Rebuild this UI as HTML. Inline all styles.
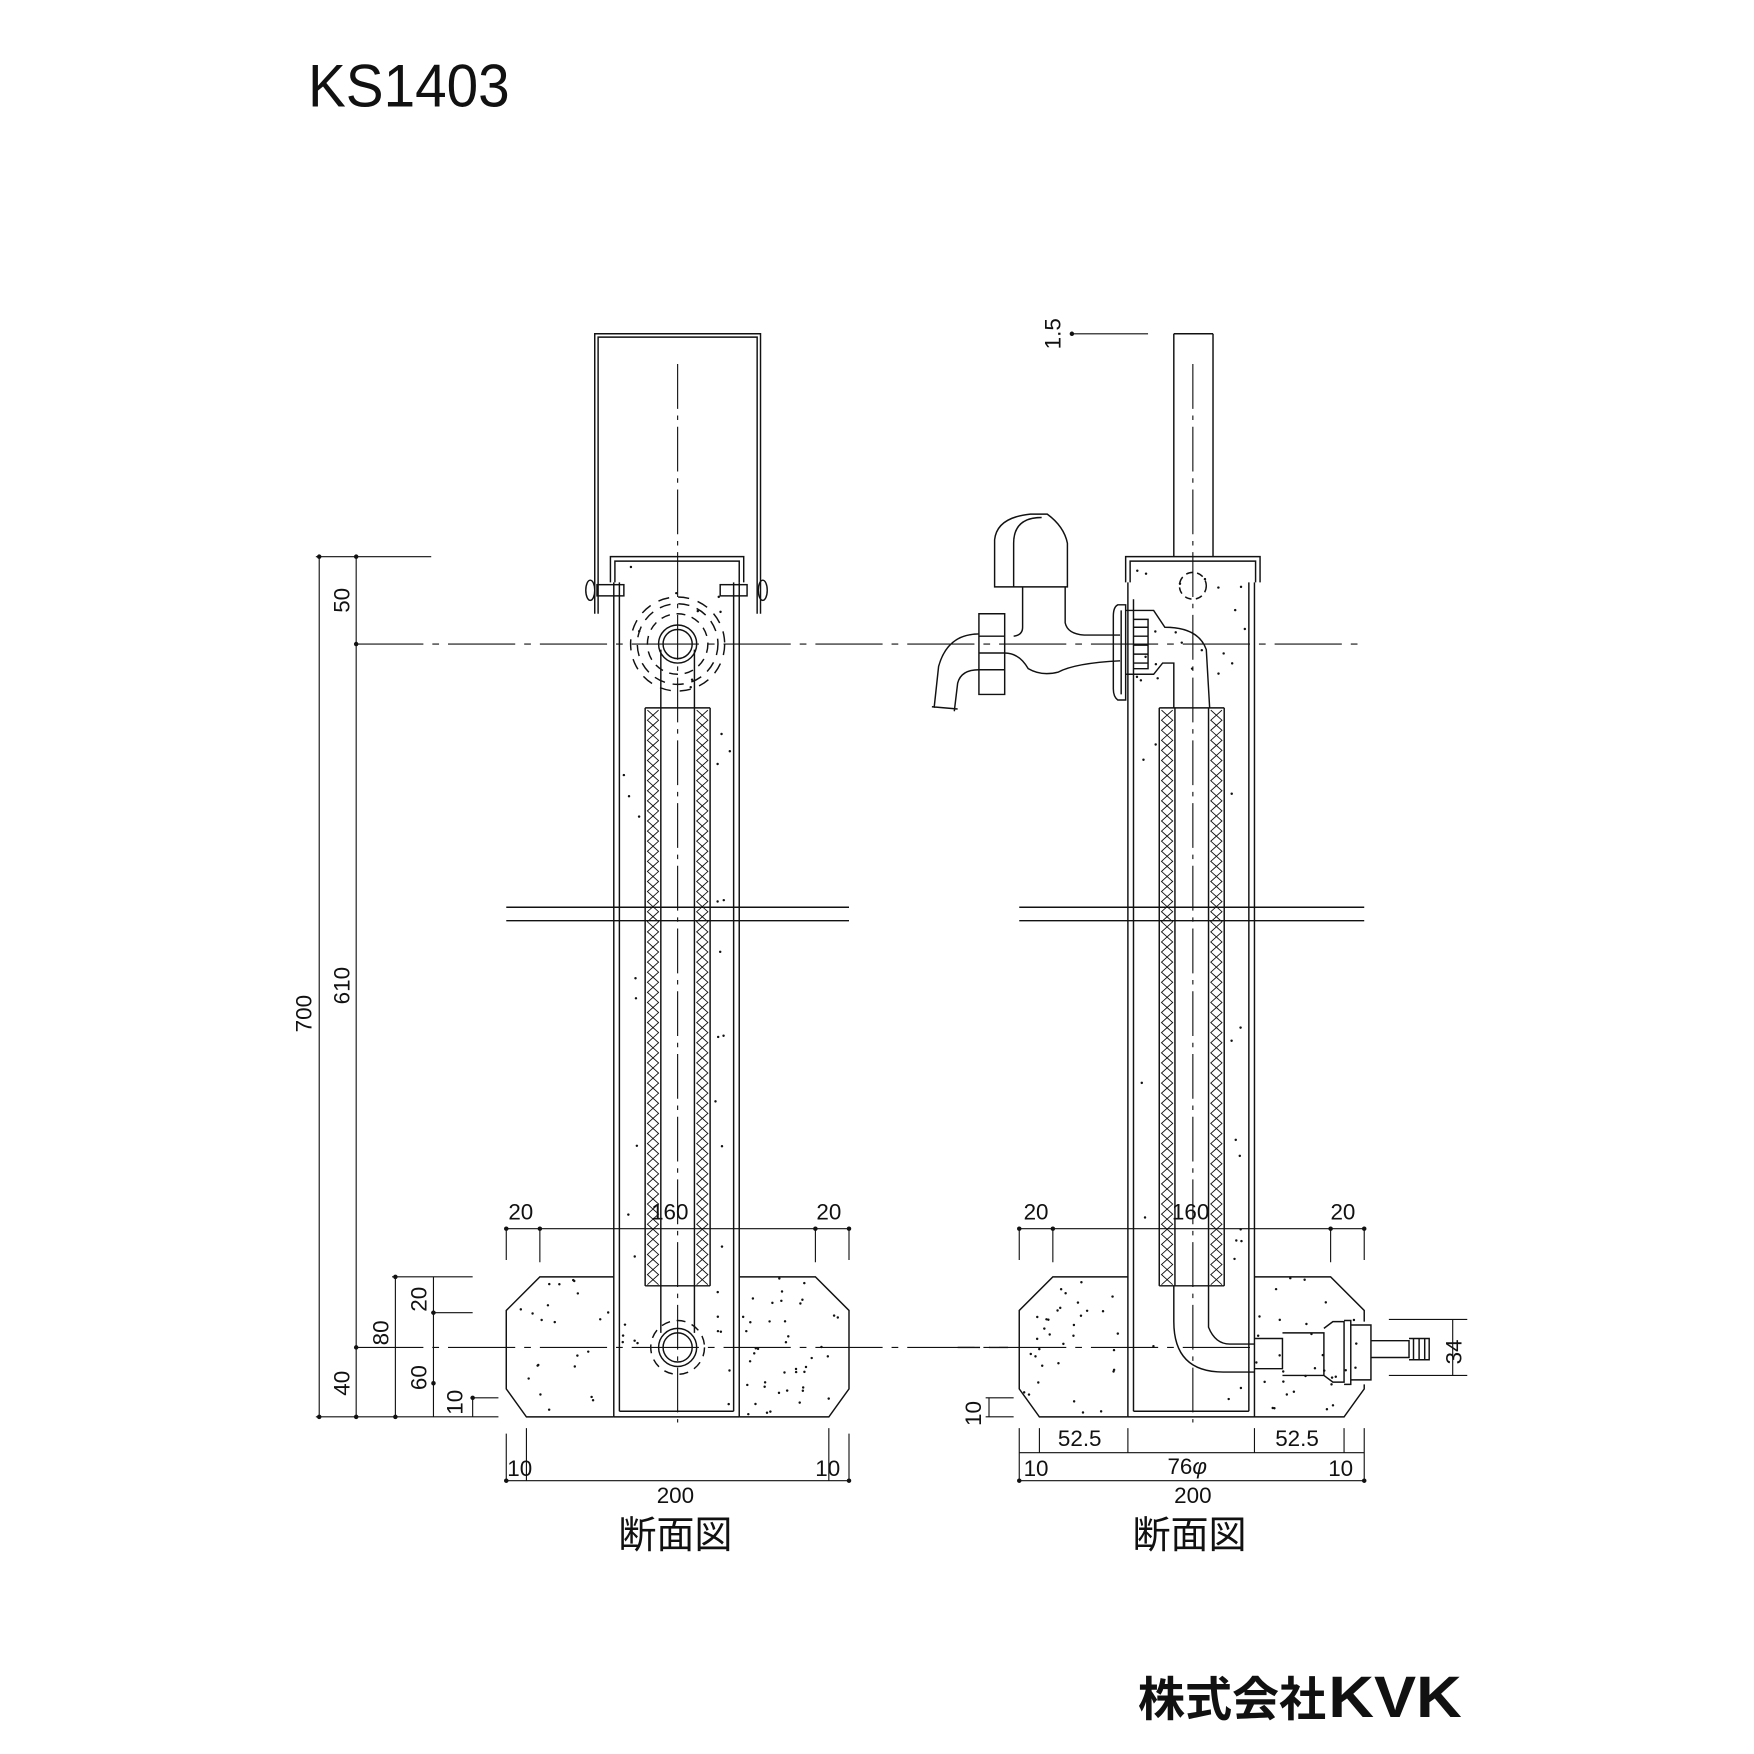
<!DOCTYPE html>
<html><head><meta charset="utf-8"><style>
html,body{margin:0;padding:0;background:#fff}
svg{display:block}
text{font-family:"Liberation Sans","Noto Sans CJK JP",sans-serif;fill:#111}
</style></head><body>
<svg id="s" width="1754" height="1754" viewBox="0 0 1566 1566" xmlns="http://www.w3.org/2000/svg">
<g fill="none" stroke="#111" stroke-width="1.3">
<path d="M531 548 V298 H679 V548 M534 548 V301 H676 V548"/>
<path d="M545 520 V497 H664 V520 M549 520 V501 H660 V520"/>
<path d="M548 520 V1265 M553 520 V1260 M660 520 V1265 M655 520 V1260 M548 1265 H660 M553 1260 H655"/>
<rect x="533" y="522" width="24" height="10"/><rect x="643" y="522" width="24" height="10"/>
<ellipse cx="527" cy="527" rx="4" ry="9"/><ellipse cx="681" cy="527" rx="4" ry="9"/>
<path d="M605 325 V1270" stroke-dasharray="40 6 4 6" stroke-width="1"/>
<path d="M318 575 H1215" stroke-dasharray="60 8 6 8" stroke-width="1"/>
<path d="M318 1203 H1120" stroke-dasharray="60 8 6 8" stroke-width="1"/>
<circle cx="605" cy="575" r="17"/><circle cx="605" cy="575" r="13"/>
<circle cx="605" cy="575" r="27" stroke-dasharray="8 6"/><circle cx="605" cy="575" r="36" stroke-dasharray="10 7"/><circle cx="605" cy="575" r="42" stroke-dasharray="10 8"/>
<path d="M590 580 V632 M620 580 V632"/>
<path d="M576 632 H634 M576 632 V1148 M590 632 V1148 M620 632 V1148 M634 632 V1148 M576 1148 H634"/>
<path d="M590 1148 V1190 M620 1148 V1190"/>
<circle cx="605" cy="1203" r="17"/><circle cx="605" cy="1203" r="13"/>
<circle cx="605" cy="1203" r="24" stroke-dasharray="8 6"/>
<path d="M452 810 H758 M452 822 H758"/>
<path d="M548 1140 H482 L452 1170 V1240 L470 1265 H548 M660 1140 H728 L758 1170 V1240 L740 1265 H660"/>

<path d="M1048 298 H1083 M1048 298 V497 M1083 298 V497"/>
<path d="M1065 325 V1270" stroke-dasharray="40 6 4 6" stroke-width="1"/>
<path d="M1005 520 V497 H1125 V520 M1009 520 V501 H1121 V520"/>
<path d="M1007 520 V1265 M1012 535 V1260 M1120 520 V1265 M1115 520 V1260 M1007 1265 H1120 M1012 1260 H1115"/>
<circle cx="1065" cy="523" r="12" stroke-dasharray="6 4"/>
<path d="M888 524 V482 Q890 462 920 459 H935 Q950 470 953 485 V524 Z M905 524 V485 Q905 462 930 462"/>
<path d="M913 524 V560 Q913 567 905 568 M951 524 V556 Q953 566 968 567 H1000"/>
<path d="M874 548 H897 V620 H874 Z M874 568 H897 M874 598 H897 M874 583 H897"/>
<path d="M874 566 Q846 566 838 595 L834 632 M874 598 Q858 598 855 610 L852 635 M832 631 L855 633"/>
<path d="M897 583 Q910 583 918 597 Q930 604 945 600 Q960 592 1000 590"/>
<path d="M998 540 H1005 V625 H998 Q994 622 994 615 V550 Q994 542 998 540 Z M1001 545 V620"/>
<path d="M1005 545 H1030 L1040 560 Q1070 560 1077 580 L1080 632 M1005 602 H1030 L1038 592 H1048 V632"/>
<path d="M1012 553 H1025 V597 H1012 M1012 560 H1025 M1012 568 H1025 M1012 576 H1025 M1012 584 H1025 M1012 592 H1025"/>
<path d="M1035 632 H1093 M1035 632 V1148 M1049 632 V1148 M1079 632 V1148 M1093 632 V1148 M1035 1148 H1093"/>
<path d="M1048 1148 V1180 Q1048 1225 1092 1225 H1120 M1079 1148 V1185 Q1085 1200 1098 1200 H1120"/>
<path d="M1120 1195 H1145 V1222 H1120 M1145 1190 H1182 V1228 H1145 M1182 1186 L1190 1180 H1200 V1234 H1190 L1182 1228"/>
<path d="M1200 1179 H1206 V1236 H1200 M1206 1183 H1224 V1232 H1206 M1224 1197 H1258 V1212 H1224 M1258 1195 H1276 V1214 H1258 M1262 1195 V1214 M1267 1195 V1214 M1272 1195 V1214"/>
<path d="M910 822 H1218 M910 810 H1218"/>
<path d="M1007 1140 H940 L910 1170 V1240 L928 1265 H1007 M1120 1140 H1188 L1218 1170 V1180 M1218 1236 V1240 L1200 1265 H1120"/>
<path d="M855 1203 H900" stroke-dasharray="20 8"/>

<g stroke-width="1">
<path d="M285 497 V1265 M318 497 V1265 M353 1140 V1265 M387 1140 V1265 M422 1248 V1265"/>
<path d="M282 497 H385 M282 1265 H445 M350 1140 H422 M385 1172 H422 M420 1248 H445"/>
<path d="M452 1097 H758 M452 1097 V1125 M482 1097 V1127 M728 1097 V1127 M758 1097 V1125"/>
<path d="M452 1322 H758 M452 1280 V1322 M470 1275 V1322 M740 1275 V1322 M758 1280 V1322"/>
<path d="M910 1097 H1218 M910 1097 V1125 M940 1097 V1127 M1188 1097 V1127 M1218 1097 V1125"/>
<path d="M910 1297 H1218 M910 1322 H1218 M910 1275 V1322 M928 1275 V1297 M1007 1275 V1297 M1120 1275 V1297 M1200 1275 V1297 M1218 1275 V1322"/>
<path d="M883 1248 V1265 M880 1248 H905 M880 1265 H905"/>
<path d="M1240 1178 H1310 M1240 1228 H1310 M1297 1178 V1228"/>
<path d="M957 298 H1025"/>
</g>
</g>
<g id="dots" fill="#111"></g>
<g id="hatch" fill="none" stroke="#111" stroke-width="0.8"></g>
<g fill="#111" stroke="none">
<circle cx="285" cy="497" r="2"/><circle cx="318" cy="497" r="2"/><circle cx="318" cy="575" r="2"/><circle cx="318" cy="1203" r="2"/><circle cx="285" cy="1265" r="2"/><circle cx="318" cy="1265" r="2"/><circle cx="353" cy="1140" r="2"/><circle cx="353" cy="1265" r="2"/><circle cx="387" cy="1172" r="2"/><circle cx="387" cy="1235" r="2"/><circle cx="422" cy="1248" r="2"/>
<circle cx="452" cy="1097" r="2"/><circle cx="482" cy="1097" r="2"/><circle cx="728" cy="1097" r="2"/><circle cx="758" cy="1097" r="2"/>
<circle cx="910" cy="1097" r="2"/><circle cx="940" cy="1097" r="2"/><circle cx="1188" cy="1097" r="2"/><circle cx="1218" cy="1097" r="2"/>
<circle cx="452" cy="1322" r="2"/><circle cx="758" cy="1322" r="2"/><circle cx="910" cy="1322" r="2"/><circle cx="1218" cy="1322" r="2"/>
<circle cx="957" cy="298" r="2"/>
</g>
<text x="275" y="95" font-size="54" textLength="180" lengthAdjust="spacingAndGlyphs">KS1403</text>
<g font-size="20">
<text transform="translate(278 905) rotate(-90)" text-anchor="middle">700</text>
<text transform="translate(312 880) rotate(-90)" text-anchor="middle">610</text>
<text transform="translate(312 536) rotate(-90)" text-anchor="middle">50</text>
<text transform="translate(312 1235) rotate(-90)" text-anchor="middle">40</text>
<text transform="translate(347 1190) rotate(-90)" text-anchor="middle">80</text>
<text transform="translate(381 1160) rotate(-90)" text-anchor="middle">20</text>
<text transform="translate(381 1230) rotate(-90)" text-anchor="middle">60</text>
<text transform="translate(413 1252) rotate(-90)" text-anchor="middle">10</text>
<text transform="translate(876 1262) rotate(-90)" text-anchor="middle">10</text>
<text transform="translate(947 298) rotate(-90)" text-anchor="middle">1.5</text>
<text transform="translate(1305 1207) rotate(-90)" text-anchor="middle">34</text>
<text x="465" y="1089" text-anchor="middle">20</text>
<text x="598" y="1089" text-anchor="middle">160</text>
<text x="740" y="1089" text-anchor="middle">20</text>
<text x="925" y="1089" text-anchor="middle">20</text>
<text x="1063" y="1089" text-anchor="middle">160</text>
<text x="1199" y="1089" text-anchor="middle">20</text>
<text x="464" y="1318" text-anchor="middle">10</text>
<text x="739" y="1318" text-anchor="middle">10</text>
<text x="603" y="1342" text-anchor="middle">200</text>
<text x="964" y="1291" text-anchor="middle">52.5</text>
<text x="1158" y="1291" text-anchor="middle">52.5</text>
<text x="925" y="1318" text-anchor="middle">10</text>
<text x="1060" y="1316" text-anchor="middle">76<tspan font-style="italic">φ</tspan></text>
<text x="1197" y="1318" text-anchor="middle">10</text>
<text x="1065" y="1342" text-anchor="middle">200</text>
</g>
<text x="603" y="1382" font-size="34" text-anchor="middle">断面図</text>
<text x="1062" y="1382" font-size="34" text-anchor="middle">断面図</text>
<text x="1016" y="1532" font-size="42" font-weight="bold">株式会社</text>
<text x="1186" y="1533" font-size="52" font-weight="bold" textLength="119" lengthAdjust="spacingAndGlyphs">KVK</text>
</svg>
<script>
(function(){
var ns="http://www.w3.org/2000/svg",d=document.getElementById("dots"),h=document.getElementById("hatch");
var seed=7;function r(){seed=(seed*16807)%2147483647;return seed/2147483647;}
function dots(x0,y0,x1,y1,n,skip){for(var i=0;i<n;i++){var x=x0+r()*(x1-x0),y=y0+r()*(y1-y0);if(skip&&skip(x,y))continue;var c=document.createElementNS(ns,"circle");c.setAttribute("cx",x.toFixed(1));c.setAttribute("cy",y.toFixed(1));c.setAttribute("r","1.1");d.appendChild(c);}}
function inBase(x0,x,y){var L=x0,R=x0+306;if(y<1140||y>1263)return false;if(x<L+3||x>R-3)return false;if(y<1170){var k=1170-y;if(x<L+k+3||x>R-k-3)return false;}return true;}
[[553,655,576,634],[1012,1115,1035,1093]].forEach(function(p){
 dots(p[0]+3,505,p[1]-3,1258,90,function(x,y){return (x>p[2]-3&&x<p[3]+3&&y>620)||(y>805&&y<827);});
});
[452,910].forEach(function(x0){
 dots(x0,1140,x0+306,1265,110,function(x,y){return !inBase(x0,x,y)||(x>x0+93&&x<x0+211);});
});
function zig(x,y0,y1){var st=9;var s="M"+x+" "+y0,k=0;for(var y=y0;y<y1;y+=st){k^=1;s+=" L"+(x+(k?10:0))+" "+(y+st);}var p=document.createElementNS(ns,"path");p.setAttribute("d",s);h.appendChild(p);
 var s2="M"+(x+10)+" "+y0;k=1;for(var y=y0;y<y1;y+=st){k^=1;s2+=" L"+(x+(k?10:0))+" "+(y+st);}var p2=document.createElementNS(ns,"path");p2.setAttribute("d",s2);h.appendChild(p2);}
[578,622,1037,1081].forEach(function(x){zig(x,634,1146);});
})();
</script>
</body></html>
